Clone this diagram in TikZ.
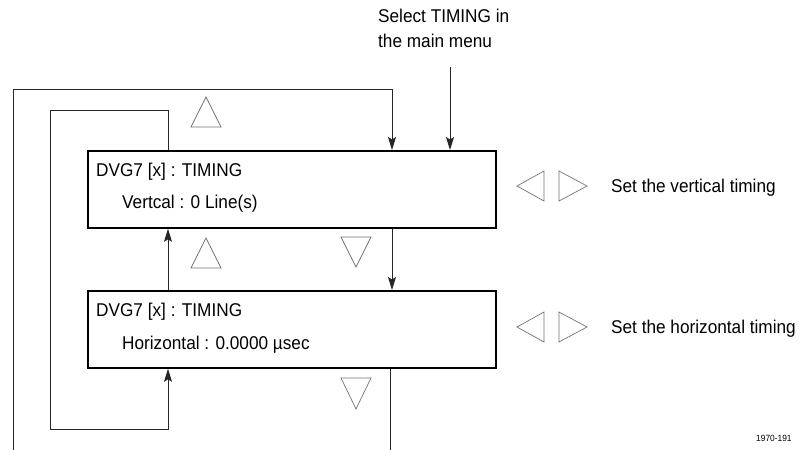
\documentclass[tikz,border=0pt]{standalone}
\usepackage{fontspec}
\setmainfont{Liberation Sans}[FakeStretch=0.93]
\usetikzlibrary{arrows.meta}
\begin{document}
\begin{tikzpicture}[x=1pt,y=-1pt,
  box/.style={draw=black,line width=1.8pt,rectangle,minimum width=408pt,minimum height=77pt,anchor=north west,inner sep=0pt},
  txt/.style={anchor=base west,inner sep=0pt,font=\fontsize{18.5}{22}\selectfont},
  conn/.style={draw=black!85,line width=1pt},
  arr/.style={conn,-{Stealth[length=13pt,width=8pt,inset=2.5pt]}},
  tri/.style={draw=black!55,line width=0.7pt,line join=miter}]
\useasboundingbox (0,0) rectangle (801,450);
\fill[white] (0,0) rectangle (801,450);
% boxes
\node[box] (box1) at (87,150) {};
\node[box] (box2) at (87,290) {};
\node[txt] (t1a) at (96,176) {DVG7 [x] : TIMING};
\node[txt] (t1b) at (122,208) {Vertcal : 0 Line(s)};
\node[txt] (t2a) at (96,316) {DVG7 [x] : TIMING};
\node[txt] (t2b) at (122,349) {Horizontal : 0.0000 µsec};
% top label
\node[txt] (mm1) at (378,22) {Select TIMING in};
\node[txt] (mm2) at (378,47) {the main menu};
\coordinate (mmstart) at (450,67);
\draw[arr] (mmstart) -- (450,0 |- box1.north);
% outer loop
\coordinate (outerstart) at (13,450);
\draw[arr] (outerstart) -- (13,89) -- (392,89) -- (392,0 |- box1.north);
% inner loop
\draw[arr] (168,0 |- box1.north) -- (168,110) -- (50,110) -- (50,429) -- (168,429) -- (168,0 |- box2.south);
% between boxes
\draw[arr] (168,0 |- box2.north) -- (168,0 |- box1.south);
\draw[arr] (392,0 |- box1.south) -- (392,0 |- box2.north);
\coordinate (bottomend) at (390,450);
\draw[conn] (390,0 |- box2.south) -- (bottomend);
% up/down triangles
\draw[tri] (191,127) -- (221,127) -- (206,97) -- cycle;
\draw[tri] (191,268) -- (221,268) -- (206,238) -- cycle;
\draw[tri] (341,237) -- (371,237) -- (356,267) -- cycle;
\draw[tri] (341,378) -- (371,378) -- (356,409) -- cycle;
% left/right triangles
\draw[tri] (544,171) -- (544,201) -- (517,186) -- cycle;
\draw[tri] (559,171) -- (559,201) -- (587,186) -- cycle;
\draw[tri] (544,312) -- (544,342) -- (517,327) -- cycle;
\draw[tri] (559,312) -- (559,342) -- (587,327) -- cycle;
\node[txt] (s1) at (611,192) {Set the vertical timing};
\node[txt] (s2) at (611,333) {Set the horizontal timing};
\node[anchor=base west,inner sep=0pt,font=\fontsize{9}{10}\selectfont] (id) at (756,441) {1970-191};
\end{tikzpicture}
\end{document}
